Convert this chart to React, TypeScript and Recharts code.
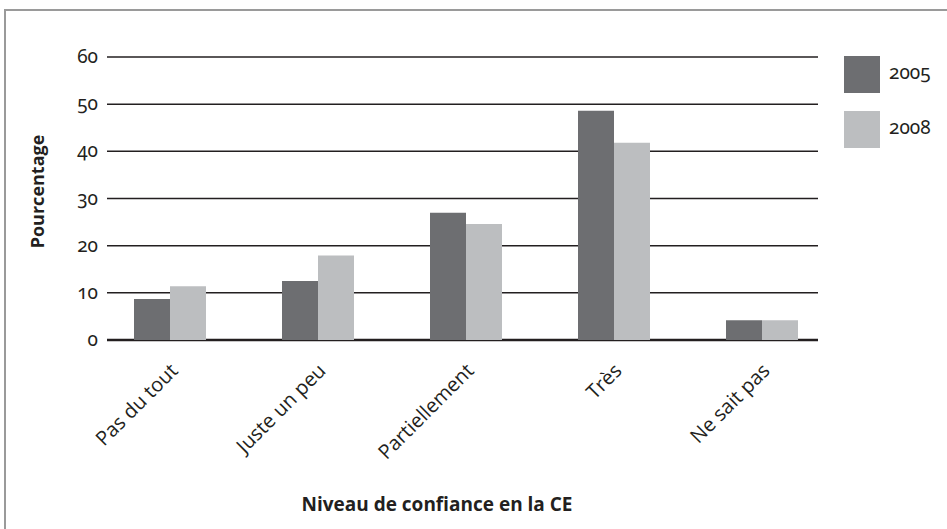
import React from "react";
import { Bar, BarChart, CartesianGrid, Legend, XAxis, YAxis } from "recharts";

// niveau de confiance en la CE, % des répondants
const categories = ["Pas du tout", "Juste un peu", "Partiellement", "Très", "Ne sait pas"];
const values2005 = [8.7, 12.5, 27.0, 48.6, 4.2];
const values2008 = [11.4, 17.9, 24.6, 41.8, 4.2];
const yTicks = [0, 10, 20, 30, 40, 50, 60];
const seriesNames = ["2005", "2008"];

const data = categories.map((name, i) => ({
  name,
  y2005: values2005[i],
  y2008: values2008[i],
}));

const W = 947;
const H = 529;
const MARGIN = { top: 57, right: 111, bottom: 39, left: 20 };
const X_AXIS_H = 150;
const PLOT_BOTTOM = H - MARGIN.bottom - X_AXIS_H;

const DARK = "#6d6e71";
const LIGHT = "#bcbec0";
const INK = "#231f20";
const NUM_FONT = "'Noto Sans'";
const TEXT_FONT = "'Open Sans'";

function GridLine(props: any) {
  const { x1, x2, y1, y2 } = props;
  const base = Math.abs(y1 - PLOT_BOTTOM) < 1;
  return (
    <line
      x1={x1 + 11}
      x2={x2 - 18}
      y1={y1}
      y2={y2}
      stroke={INK}
      strokeWidth={base ? 2.5 : 1.5}
    />
  );
}

function YTick({ x, y, payload }: any) {
  return (
    <text
      x={x + 2}
      y={y + 6}
      textAnchor="end"
      fill={INK}
      fontSize={19}
      fontFamily={NUM_FONT}
      style={{ fontFeatureSettings: '"onum" 1', fontVariantNumeric: "oldstyle-nums" }}
    >
      {payload.value}
    </text>
  );
}

function XTick({ x, y, payload }: any) {
  const tx = x + 9;
  const ty = y + 32;
  return (
    <text
      x={tx}
      y={ty}
      textAnchor="end"
      fill={INK}
      fontSize={20}
      fontFamily={TEXT_FONT}
      transform={`rotate(-45 ${tx} ${ty})`}
    >
      {payload.value}
    </text>
  );
}

function LegendBox() {
  const colors = [DARK, LIGHT];
  return (
    <div style={{ display: "flex", flexDirection: "column", gap: 18 }}>
      {seriesNames.map((s, i) => (
        <div key={s} style={{ display: "flex", alignItems: "center", height: 37 }}>
          <div style={{ width: 36, height: 37, background: colors[i] }} />
          <span
            style={{
              marginLeft: 9,
              marginTop: -6,
              fontFamily: NUM_FONT,
              fontSize: 19,
              color: INK,
              fontVariantNumeric: "oldstyle-nums",
            }}
          >
            {s}
          </span>
        </div>
      ))}
    </div>
  );
}

export default function App() {
  return (
    <div style={{ position: "absolute", left: 0, top: 0, width: W, height: H, background: "#fff", overflow: "hidden" }}>
      <div
        style={{
          position: "absolute",
          left: 4,
          top: 9,
          width: W,
          height: H,
          borderTop: "2px solid #9a9a9a",
          borderLeft: "2px solid #9a9a9a",
        }}
      />
      <div style={{ position: "absolute", left: 0, top: 0 }}>
        <BarChart width={W} height={H} data={data} margin={MARGIN} barGap={0}>
          <CartesianGrid vertical={false} horizontal={(p: any) => <GridLine key={p.key} {...p} />} />
          <XAxis
            dataKey="name"
            height={X_AXIS_H}
            axisLine={false}
            tickLine={false}
            tickSize={0}
            tickMargin={0}
            interval={0}
            tick={<XTick />}
            label={{
              content: ({ viewBox }: any) => (
                <text
                  x={viewBox.x + 341}
                  y={viewBox.y + 171}
                  textAnchor="middle"
                  fill={INK}
                  fontSize={19}
                  fontWeight="bold"
                  fontFamily={TEXT_FONT}
                >
                  Niveau de confiance en la CE
                </text>
              ),
            }}
          />
          <YAxis
            width={76}
            domain={[0, 60]}
            ticks={yTicks}
            axisLine={false}
            tickLine={false}
            tickSize={0}
            tickMargin={0}
            tick={<YTick />}
            label={{
              content: ({ viewBox }: any) => {
                const cx = viewBox.x + 17;
                const cy = viewBox.y + viewBox.height / 2 - 7;
                return (
                  <text
                    x={cx}
                    y={cy}
                    textAnchor="middle"
                    dominantBaseline="central"
                    fill={INK}
                    fontSize={18}
                    fontWeight="bold"
                    fontFamily={TEXT_FONT}
                    transform={`rotate(-90 ${cx} ${cy})`}
                  >
                    Pourcentage
                  </text>
                );
              },
            }}
          />
          <Legend
            layout="horizontal"
            verticalAlign="middle"
            align="center"
            wrapperStyle={{ left: 844, top: 56, width: 100, height: 100 }}
            content={() => <LegendBox />}
          />
          <Bar dataKey="y2005" name={seriesNames[0]} fill={DARK} barSize={36} isAnimationActive={false} />
          <Bar dataKey="y2008" name={seriesNames[1]} fill={LIGHT} barSize={36} isAnimationActive={false} />
        </BarChart>
      </div>
    </div>
  );
}
